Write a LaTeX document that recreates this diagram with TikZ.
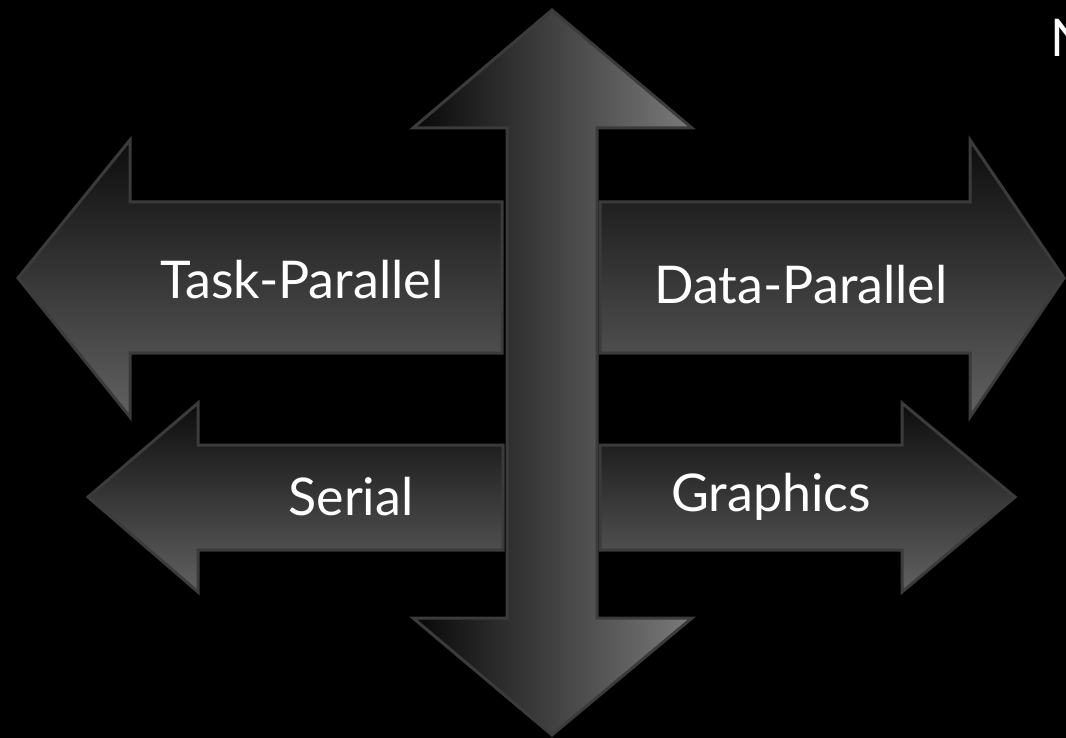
\documentclass[tikz,border=0pt]{standalone}
\usepackage{fontspec}
\setmainfont{Lato}
\begin{document}
\begin{tikzpicture}[x=1pt,y=-1pt,
  arrowbox/.style={draw=black!77!white, line width=3pt, line join=miter},
  hshade/.style={arrowbox, top color=black!95!white, bottom color=black!62!white},
  vshade/.style={arrowbox, left color=black!97!white, right color=black!52!white},
  label/.style={text=white, font=\fontsize{52}{60}\selectfont, inner sep=0pt}]
\fill[black] (0,0) rectangle (1066,738);
\useasboundingbox (0,0) rectangle (1066,738);
\clip (0,0) rectangle (1066,738);
% vertical double arrow
\path[vshade] (552,10) -- (692,128) -- (597,128) -- (597,618) -- (692,618) -- (552,735)
  -- (413,618) -- (507,618) -- (507,128) -- (413,128) -- cycle;
% Task-Parallel (left)
\path[hshade] (18,278) -- (130,140) -- (130,202) -- (502,202) -- (502,353) -- (130,353) -- (130,417) -- cycle;
% Data-Parallel (right)
\path[hshade] (1064,278) -- (970,140) -- (970,202) -- (600,202) -- (600,353) -- (970,353) -- (970,417) -- cycle;
% Serial (left)
\path[hshade] (88,497) -- (198,403) -- (198,445) -- (503,445) -- (503,550) -- (198,550) -- (198,592) -- cycle;
% Graphics (right)
\path[hshade] (1015,497) -- (902,403) -- (902,445) -- (600,445) -- (600,550) -- (902,550) -- (902,592) -- cycle;
% labels
\node[label] (task) at (302,280) {Task-Parallel};
\node[label] (data) at (801,285) {Data-Parallel};
\node[label] (serial) at (351,497) {Serial};
\node[label] (graphics) at (771,497) {Graphics};
\node[label, anchor=base west] (title) at (1050,57) {N};
\end{tikzpicture}
\end{document}
